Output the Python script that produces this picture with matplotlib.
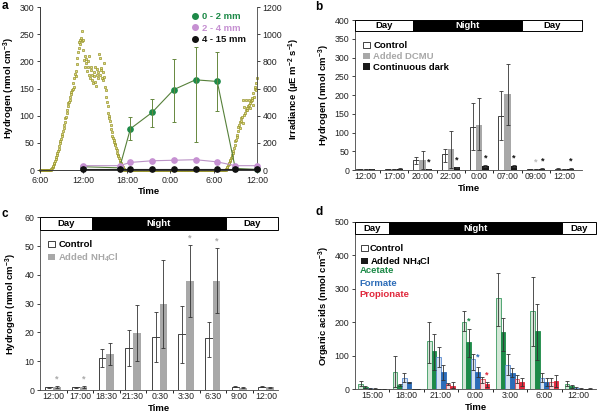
import numpy as np
import matplotlib
matplotlib.use("Agg")
import matplotlib.pyplot as plt
import matplotlib.transforms as mtransforms
from matplotlib.patches import Rectangle, Patch
from matplotlib.lines import Line2D

plt.rcParams['font.family'] = ['Liberation Sans', 'DejaVu Sans']
plt.rcParams['mathtext.default'] = 'regular'
plt.rcParams['axes.linewidth'] = 0.6

# ---------------- panel a: hydrogen profiles + irradiance ----------------
h2_hours = [12, 17, 18.5, 21.5, 24.5, 27.5, 30.5, 33, 36]
h2_0_2 = [6, 4, 76, 106, 148, 166, 163, 3, 1]
h2_0_2_lo = [None, None, 56, 80, 89, 52, 109, None, None]
h2_0_2_hi = [None, None, 97, 131, 205, 226, 217, None, None]
h2_2_4 = [8, 8, 14, 17, 18, 19, 15, 8, 8]
h2_4_15 = [1, 1, 1, 1, 1, 1, 1, 1, 1]

# irradiance, 5-min readings, 6:00 - 18:00 (day 1)
irr_day1 = [
    0, 0, 0, 0, 0, 0, 0, 0, 0, 0, 0, 0,
    0, 0, 0, 0, 0, 0, 3, 6, 12, 20, 30, 42,
    55, 66, 80, 95, 112, 125, 138, 155, 175, 196, 215, 232,
    250, 268, 290, 312, 330, 355, 380, 392, 420, 440, 470, 490,
    500, 515, 540, 560, 575, 590, 600, 640, 610, 680, 705, 690,
    730, 780, 822, 870, 900, 940, 960, 930, 975, 1026, 950, 880,
    960, 811, 760, 840, 787, 820, 730, 799, 760, 700, 840, 680,
    738, 760, 660, 700, 640, 690, 720, 760, 650, 615, 700, 740,
    680, 720, 853, 824, 700, 738, 750, 680, 664, 720, 790, 688,
    613, 590, 540, 500, 470, 420, 400, 380, 360, 330, 300, 280,
    250, 235, 220, 205, 195, 185, 165, 145, 128, 112, 100, 88,
    75, 62, 52, 45, 35, 22, 10, 4, 0, 0, 0, 0,
    0,
]
# night: all zero readings 18:05 - 31:25 (7:25 next morning)
irr_night = [0] * 160
# 7:30 - 12:00 (day 2)
irr_day2 = [
    0, 0, 0, 5, 15, 25,
    35, 45, 55, 65, 75, 88, 98, 110, 125, 140, 160, 185,
    210, 221, 240, 260, 290, 319, 330, 310, 350, 360, 380, 392,
    515, 344, 405, 466, 420, 516, 440, 455, 442, 470, 515, 480,
    490, 460, 510, 515, 530, 480, 565, 540, 600, 614, 590, 640,
    675,
]

# ---------------- panel b ----------------
b_times = ['12:00', '17:00', '20:00', '22:00', '0:00', '07:00', '09:00', '12:00']
b_control = [3, 3, 26, 42, 115, 145, 3, 4]
b_control_lo = [2, 2, 16, 22, 53, 80, 2, 3]
b_control_hi = [4, 4, 35, 57, 180, 210, 4, 5]
b_dcmu = [3, 3, 27, 55, 120, 202, 3, 3]
b_dcmu_lo = [2, 2, 3, 6, 53, 120, 2, 2]
b_dcmu_hi = [4, 4, 51, 104, 191, 284, 4, 4]
b_dark = [3, 4, 3, 7, 11, 11, 4, 4]
b_dark_lo = [2, 3, 2, 5, 8, 8, 3, 3]
b_dark_hi = [4, 5, 4, 9, 14, 14, 5, 5]
b_dark_sig = [2, 3, 4, 5, 6, 7]
b_dcmu_sig = [6]

# ---------------- panel c ----------------
c_times = ['12:00', '17:00', '18:30', '21:30', '0:30', '3:30', '6:30', '9:00', '12:00']
c_control = [1.0, 1.0, 11.2, 14.6, 18.5, 19.4, 18.0, 1.2, 1.1]
c_control_lo = [0.8, 0.8, 8.1, 8.5, 9.8, 9.5, 11.6, 1.0, 0.9]
c_control_hi = [1.2, 1.2, 14.1, 20.9, 27.2, 29.2, 23.8, 1.4, 1.3]
c_nh4 = [1.0, 1.0, 12.5, 19.7, 29.9, 38.0, 38.0, 0.8, 1.0]
c_nh4_lo = [0.6, 0.6, 8.7, 10.0, 14.5, 25.3, 26.6, 0.6, 0.8]
c_nh4_hi = [1.4, 1.4, 16.2, 29.5, 45.2, 50.4, 49.5, 1.0, 1.2]
c_nh4_sig = [0, 1, 5, 6]

# ---------------- panel d ----------------
d_times = ['15:00', '18:00', '21:00', '0:00', '3:00', '6:00', '12:00']
acetate_ctrl = [17, 53, 143, 200, 271, 233, 16]
acetate_ctrl_lo = [9, 8, 78, 173, 188, 128, 9]
acetate_ctrl_hi = [25, 98, 202, 233, 348, 335, 25]
acetate_nh4 = [7, 13, 115, 140, 171, 173, 9]
acetate_nh4_lo = [3, 10, 58, 95, 113, 88, 5]
acetate_nh4_hi = [11, 16, 165, 180, 213, 255, 13]
formate_ctrl = [3, 35, 96, 89, 73, 35, 4]
formate_ctrl_lo = [2, 23, 68, 58, 43, 22, 2]
formate_ctrl_hi = [4, 50, 126, 104, 105, 48, 6]
formate_nh4 = [2, 21, 52, 53, 50, 23, 2]
formate_nh4_lo = [1, 19, 28, 38, 38, 10, 1]
formate_nh4_hi = [3, 23, 73, 66, 63, 35, 3]
prop_ctrl = [1, 1, 16, 30, 31, 22, 1]
prop_ctrl_lo = [1, 1, 12, 20, 20, 10, 1]
prop_ctrl_hi = [1, 1, 20, 38, 43, 33, 1]
prop_nh4 = [0.5, 1, 11, 15, 21, 26, 2]
prop_nh4_lo = [0.5, 1, 3, 8, 10, 8, 1]
prop_nh4_hi = [0.5, 1, 23, 23, 33, 43, 3]

GREEN = '#1d8a48'
BLUE = '#2c6cb8'
RED = '#e0283c'
GREY = '#a8a8a8'


def style(ax):
    ax.spines['top'].set_visible(False)
    ax.spines['right'].set_visible(False)
    for s in ['left', 'bottom']:
        ax.spines[s].set_color('#444444')
    ax.tick_params(labelsize=6.3, length=2.5, width=0.6, pad=1.5, colors='#222222')


def day_night(ax, night_start, night_end):
    trans = mtransforms.blended_transform_factory(ax.transData, ax.transAxes)
    x0, x1 = ax.get_xlim()
    y0, hgt = 0.925, 0.075
    parts = [(x0, night_start, 'white', 'Day', 'black'),
             (night_start, night_end, 'black', 'Night', 'white'),
             (night_end, x1, 'white', 'Day', 'black')]
    for a, b, fc, label, tc in parts:
        ax.add_patch(Rectangle((a, y0), b - a, hgt, transform=trans, fc=fc,
                               ec='black', lw=0.7, clip_on=False, zorder=5))
        ax.text((a + b) / 2, y0 + hgt / 2, label, transform=trans, ha='center',
                va='center', color=tc, fontsize=6.8, fontweight='bold', zorder=6)


def err(ax, x, v, lo, hi, color='#333333', lw=0.6):
    v = np.array(v, float)
    yerr = [v - np.array(lo, float), np.array(hi, float) - v]
    ax.errorbar(x, v, yerr=yerr, fmt='none', ecolor=color, elinewidth=lw,
                capsize=1.2, capthick=lw, zorder=4)


def star(ax, x, y, color):
    ax.annotate('*', (x, y), xytext=(0, 0.5), textcoords='offset points',
                ha='center', va='bottom', fontsize=6.5, fontweight='bold', color=color)


fig = plt.figure(figsize=(5.97, 4.2), dpi=100)

# ======================= a =======================
ax = fig.add_axes([0.0670, 0.5952, 0.3635, 0.3881])
ax2 = ax.twinx()
style(ax)
ax2.spines['top'].set_visible(False)
ax2.spines['right'].set_color('#444444')
ax2.tick_params(labelsize=6.3, length=2.5, width=0.6, pad=1.5, colors='#222222')

t1 = np.arange(len(irr_day1)) * 5 / 60 + 6
t_night = np.arange(1, len(irr_night) + 1) * 5 / 60 + 18
t2 = np.arange(len(irr_day2)) * 5 / 60 + 31.5
irr_t = np.concatenate([t1, t_night, t2])
irr_v = np.concatenate([irr_day1, irr_night, irr_day2])
ax2.plot(irr_t, irr_v, ls='none', marker='s', ms=1.9, mfc='#e4e07a', mec='#8c8820',
         mew=0.45, clip_on=False)
ax2.set_ylim(0, 1200)
ax2.set_yticks(range(0, 1201, 200))
ax2.set_ylabel('Irradiance (µE m$^{-2}$ s$^{-1}$)', fontsize=6.8, fontweight='bold', labelpad=3)

ax.set_zorder(ax2.get_zorder() + 1)
ax.patch.set_visible(False)

ax.plot(h2_hours, h2_0_2, color='#56803a', lw=0.8, zorder=3)
ax.plot(h2_hours, h2_0_2, ls='none', marker='o', ms=3.8, mfc=GREEN, mec=GREEN, zorder=4, clip_on=False)
idx = [i for i, v in enumerate(h2_0_2_lo) if v is not None]
err(ax, [h2_hours[i] for i in idx], [h2_0_2[i] for i in idx],
    [h2_0_2_lo[i] for i in idx], [h2_0_2_hi[i] for i in idx], color='#66883e', lw=0.7)
ax.plot(h2_hours, h2_2_4, color='#bb93c6', lw=0.8, marker='o', ms=3.8, mfc='#c690d2',
        mec='#c690d2', zorder=5, clip_on=False)
ax.plot(h2_hours, h2_4_15, color='#222222', lw=0.8, marker='o', ms=3.8, mfc='#111111',
        mec='#111111', zorder=6, clip_on=False)
ax.set_xlim(6, 36)
ax.set_ylim(0, 300)
ax.set_xticks([6, 12, 18, 24, 30, 36])
ax.set_xticklabels(['6:00', '12:00', '18:00', '0:00', '6:00', '12:00'])
ax.set_yticks(range(0, 301, 50))
ax.set_ylabel('Hydrogen (nmol cm$^{-3}$)', fontsize=6.8, fontweight='bold', labelpad=2)
ax.set_xlabel('Time', fontsize=6.8, fontweight='bold', labelpad=2)
handles = [Line2D([], [], ls='none', marker='o', ms=4, mfc=c, mec=c)
           for c in [GREEN, '#c690d2', '#111111']]
leg = ax.legend(handles, ['0 - 2 mm', '2 - 4 mm', '4 - 15 mm'], loc='upper right',
                bbox_to_anchor=(0.99, 1.02), frameon=False, handlelength=0.6,
                handletextpad=0.5, labelspacing=0.25, prop={'size': 6.8, 'weight': 'bold'})
for txt, c in zip(leg.get_texts(), [GREEN, '#c690d2', '#111111']):
    txt.set_color(c)

# ======================= b =======================
ax = fig.add_axes([0.5946, 0.5952, 0.3802, 0.3571])
style(ax)
xb = np.arange(len(b_times))
w = 0.22
ax.bar(xb - w, b_control, w, color='white', edgecolor='#222222', lw=0.6, zorder=2)
ax.bar(xb, b_dcmu, w, color=GREY, edgecolor='none', zorder=2)
ax.bar(xb + w, b_dark, w, color='#1a1a1a', edgecolor='none', zorder=2)
err(ax, xb - w, b_control, b_control_lo, b_control_hi)
err(ax, xb, b_dcmu, b_dcmu_lo, b_dcmu_hi)
err(ax, xb + w, b_dark, b_dark_lo, b_dark_hi)
for i in b_dark_sig:
    star(ax, xb[i] + w, b_dark_hi[i] + 4, '#111111')
for i in b_dcmu_sig:
    star(ax, xb[i], b_dcmu_hi[i] + 4, '#bbbbbb')
ax.set_xlim(-0.38, 7.62)
ax.set_ylim(0, 400)
ax.set_yticks(range(0, 401, 50))
ax.set_xticks(xb)
ax.set_xticklabels(b_times)
ax.set_xticks(np.arange(0.5, 7.5, 1), minor=True)
ax.tick_params(axis='x', which='major', length=0)
ax.tick_params(axis='x', which='minor', length=2.5, width=0.6)
ax.set_ylabel('Hydrogen (nmol cm$^{-3}$)', fontsize=6.8, fontweight='bold', labelpad=2)
ax.set_xlabel('Time', fontsize=6.8, fontweight='bold', labelpad=2)
day_night(ax, 1.65, 5.5)
leg = ax.legend([Patch(fc='white', ec='#222222', lw=0.6), Patch(fc=GREY), Patch(fc='#1a1a1a')],
                ['Control', 'Added DCMU', 'Continuous dark'], loc='upper left',
                bbox_to_anchor=(0.0, 0.915), frameon=False, handlelength=0.7, handleheight=0.7,
                handletextpad=0.35, labelspacing=0.2, prop={'size': 6.8, 'weight': 'bold'})
leg.get_texts()[1].set_color('#a8a8a8')

# ======================= c =======================
ax = fig.add_axes([0.0670, 0.0714, 0.3987, 0.4112])
style(ax)
xc = np.arange(len(c_times))
w = 0.29
ax.bar(xc - 0.15, c_control, w, color='white', edgecolor='#222222', lw=0.6, zorder=2)
ax.bar(xc + 0.14, c_nh4, w, color=GREY, edgecolor='none', zorder=2)
err(ax, xc - 0.15, c_control, c_control_lo, c_control_hi)
err(ax, xc + 0.14, c_nh4, c_nh4_lo, c_nh4_hi)
for i in c_nh4_sig:
    star(ax, xc[i] + 0.14, c_nh4_hi[i] + 0.6, '#aaaaaa')
ax.set_xlim(-0.5, 8.45)
ax.set_ylim(0, 60)
ax.set_yticks(range(0, 61, 10))
ax.set_xticks(xc)
ax.set_xticklabels(c_times)
ax.set_xticks(np.arange(0.5, 8.5, 1), minor=True)
ax.tick_params(axis='x', which='major', length=0)
ax.tick_params(axis='x', which='minor', length=2.5, width=0.6)
ax.set_ylabel('Hydrogen (nmol cm$^{-3}$)', fontsize=6.8, fontweight='bold', labelpad=4)
ax.set_xlabel('Time', fontsize=6.8, fontweight='bold', labelpad=2)
day_night(ax, 1.45, 6.5)
leg = ax.legend([Patch(fc='white', ec='#222222', lw=0.6), Patch(fc=GREY)],
                ['Control', 'Added NH$_4$Cl'], loc='upper left',
                bbox_to_anchor=(0.0, 0.915), frameon=False, handlelength=0.7, handleheight=0.7,
                handletextpad=0.35, labelspacing=0.2, prop={'size': 6.8, 'weight': 'bold'})
leg.get_texts()[1].set_color('#a8a8a8')

# ======================= d =======================
ax = fig.add_axes([0.5946, 0.0731, 0.4037, 0.3990])
style(ax)
xd = np.arange(len(d_times))
w = 0.135
series = [
    (acetate_ctrl, acetate_ctrl_lo, acetate_ctrl_hi, '#d3e7d7', '#3a9a60'),
    (acetate_nh4, acetate_nh4_lo, acetate_nh4_hi, GREEN, GREEN),
    (formate_ctrl, formate_ctrl_lo, formate_ctrl_hi, '#d5e1f2', '#5b8bd0'),
    (formate_nh4, formate_nh4_lo, formate_nh4_hi, BLUE, BLUE),
    (prop_ctrl, prop_ctrl_lo, prop_ctrl_hi, '#f8dadd', '#e24a58'),
    (prop_nh4, prop_nh4_lo, prop_nh4_hi, RED, RED),
]
offsets = (np.arange(6) - 2.5) * w
for (v, lo, hi, fc, ec), off in zip(series, offsets):
    ax.bar(xd + off, v, w, color=fc, edgecolor=ec, lw=0.6, zorder=2)
    err(ax, xd + off, v, lo, hi, color='#333333')
star(ax, xd[3] + offsets[1], acetate_ctrl[3] - 12, GREEN)
star(ax, xd[3] + offsets[3], formate_ctrl[3] - 8, BLUE)
star(ax, xd[3] + offsets[5], prop_ctrl[3] - 2, RED)
ax.set_xlim(-0.5, 6.5)
ax.set_ylim(0, 500)
ax.set_yticks(range(0, 501, 100))
ax.set_xticks(xd)
ax.set_xticklabels(d_times)
ax.set_xticks(np.arange(0.5, 6, 1), minor=True)
ax.tick_params(axis='x', which='major', length=0)
ax.tick_params(axis='x', which='minor', length=2.5, width=0.6)
ax.set_ylabel('Organic acids (nmol cm$^{-3}$)', fontsize=6.8, fontweight='bold', labelpad=2)
ax.set_xlabel('Time', fontsize=6.8, fontweight='bold', labelpad=2)
day_night(ax, 0.5, 5.5)
leg = ax.legend([Patch(fc='white', ec='#222222', lw=0.6), Patch(fc='#1a1a1a')],
                ['Control', 'Added NH$_4$Cl'], loc='upper left',
                bbox_to_anchor=(-0.01, 0.915), frameon=False, handlelength=0.7, handleheight=0.7,
                handletextpad=0.25, labelspacing=0.2, prop={'size': 6.8, 'weight': 'bold'})
for label, c, y in [('Acetate', GREEN, 0.706), ('Formate', BLUE, 0.634), ('Propionate', RED, 0.563)]:
    ax.text(0.02, y, label, transform=ax.transAxes, color=c, fontsize=6.8,
            fontweight='bold', va='center')

# panel letters
for letter, x, y in [('a', 0.003, 0.986), ('b', 0.528, 0.983), ('c', 0.003, 0.490), ('d', 0.528, 0.495)]:
    fig.text(x, y, letter, fontsize=8.5, fontweight='bold', va='center')

fig.savefig('out.png', dpi=100)
